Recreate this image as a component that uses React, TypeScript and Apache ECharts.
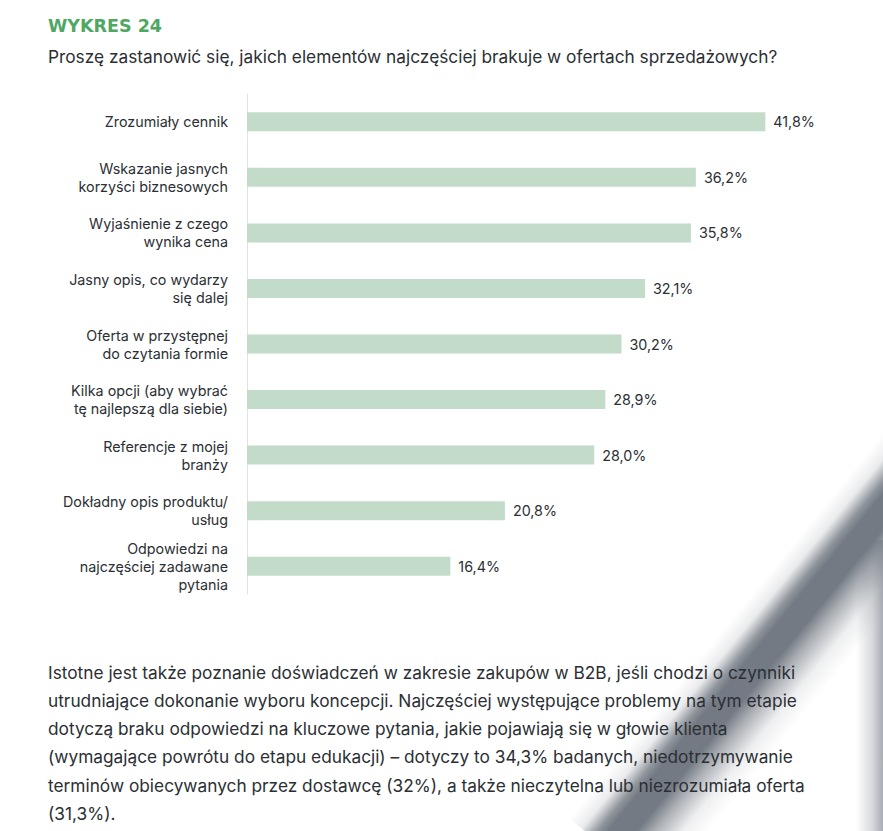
import React, { useEffect, useRef } from "react";
import * as echarts from "echarts";

const categories = [
  "Zrozumiały cennik",
  "Wskazanie jasnych\nkorzyści biznesowych",
  "Wyjaśnienie z czego\nwynika cena",
  "Jasny opis, co wydarzy\nsię dalej",
  "Oferta w przystępnej\ndo czytania formie",
  "Kilka opcji (aby wybrać\ntę najlepszą dla siebie)",
  "Referencje z mojej\nbranży",
  "Dokładny opis produktu/\nusług",
  "Odpowiedzi na\nnajczęściej zadawane\npytania",
];
const values = [41.8, 36.2, 35.8, 32.1, 30.2, 28.9, 28.0, 20.8, 16.4];

const titleText = "WYKRES 24";
const subtitleText =
  "Proszę zastanowić się, jakich elementów najczęściej brakuje w ofertach sprzedażowych?";
const paragraphLines = [
  "Istotne jest także poznanie doświadczeń w zakresie zakupów w B2B, jeśli chodzi o czynniki",
  "utrudniające dokonanie wyboru koncepcji. Najczęściej występujące problemy na tym etapie",
  "dotyczą braku odpowiedzi na kluczowe pytania, jakie pojawiają się w głowie klienta",
  "(wymagające powrótu do etapu edukacji) – dotyczy to 34,3% badanych, niedotrzymywanie",
  "terminów obiecywanych przez dostawcę (32%), a także nieczytelna lub niezrozumiała oferta",
  "(31,3%).",
];

const FONT = "Inter, 'Noto Sans', sans-serif";
const TEXT = "#2b2f34";

export default function App() {
  const ref = useRef<HTMLDivElement>(null);
  useEffect(() => {
    document.body.style.margin = "0";
    const chart = echarts.init(ref.current!, null, { renderer: "svg" });

    // diagonal shadow band geometry
    const c = [714, 717];
    const dir = [0.632, -0.775];
    const perp = [0.775, 0.632];
    const pt = (t: number, o: number) => [
      c[0] + dir[0] * t + perp[0] * o,
      c[1] + dir[1] * t + perp[1] * o,
    ];
    const tTop = 330;
    const tBot = -170;
    const oL = -48;
    const oR = 68;
    const g0 = pt(0, oL);
    const g1 = pt(0, oR);
    const span = oR - oL;
    const st = (o: number) => (o - oL) / span;
    const col = (a: number) => `rgba(115,122,131,${a})`;
    const shadowFill = new echarts.graphic.LinearGradient(
      g0[0],
      g0[1],
      g1[0],
      g1[1],
      [
        { offset: 0, color: col(0) },
        { offset: st(-32), color: col(0.15) },
        { offset: st(-18), color: col(0.8) },
        { offset: st(-10), color: col(1) },
        { offset: st(12), color: col(1) },
        { offset: st(26), color: col(0.6) },
        { offset: st(48), color: col(0.12) },
        { offset: 1, color: col(0) },
      ],
      true
    );
    const stripFill = new echarts.graphic.LinearGradient(
      856,
      0,
      883,
      0,
      [
        { offset: 0, color: "rgba(140,146,153,0)" },
        { offset: 0.6, color: "rgba(140,146,153,0.35)" },
        { offset: 1, color: "rgba(140,146,153,0.75)" },
      ],
      true
    );

    const graphics: any[] = [
      {
        type: "rect",
        z: 0,
        silent: true,
        shape: { x: 856, y: 540, width: 27, height: 291 },
        style: { fill: stripFill },
      },
      {
        type: "polygon",
        z: 1,
        silent: true,
        shape: { points: [pt(tTop, oL), pt(tTop, oR), pt(tBot, oR), pt(tBot, oL)] },
        style: { fill: shadowFill },
      },
      ...paragraphLines.map((line, i) => ({
        type: "text",
        z: 10,
        x: 48,
        y: 672 + i * 28.3,
        style: {
          text: line,
          fontSize: 17.3,
          fontFamily: FONT,
          fill: TEXT,
          verticalAlign: "middle",
        },
      })),
    ];

    chart.setOption({
      animation: false,
      backgroundColor: "#ffffff",
      title: [
        {
          text: titleText,
          left: 48,
          top: 17,
          padding: 0,
          textStyle: {
            fontSize: 17.5,
            fontWeight: 600,
            fontFamily: "'DejaVu Sans', sans-serif",
            color: "#4ea763",
          },
        },
        {
          text: subtitleText,
          left: 48,
          top: 48,
          padding: 0,
          textStyle: {
            fontSize: 17.3,
            fontWeight: 400,
            fontFamily: FONT,
            color: TEXT,
          },
        },
      ],
      grid: { left: 247, top: 94, height: 500, width: 620 },
      xAxis: {
        type: "value",
        min: 0,
        max: 50,
        show: false,
      },
      yAxis: {
        type: "category",
        data: categories,
        inverse: true,
        axisLine: { show: true, lineStyle: { color: "#e2e2e2", width: 1 } },
        axisTick: { show: false },
        splitLine: { show: false },
        axisLabel: {
          margin: 19,
          fontSize: 14.3,
          lineHeight: 18,
          fontFamily: FONT,
          color: TEXT,
          align: "right",
        },
      },
      series: [
        {
          type: "bar",
          data: values,
          barWidth: 19,
          itemStyle: { color: "#c3dcca" },
          label: {
            show: true,
            position: "right",
            distance: 8,
            fontSize: 14.3,
            fontFamily: FONT,
            color: TEXT,
            formatter: (p: any) => p.value.toFixed(1).replace(".", ",") + "%",
          },
        },
      ],
      graphic: graphics,
    });
    return () => chart.dispose();
  }, []);
  return <div ref={ref} style={{ width: 883, height: 831 }} />;
}
